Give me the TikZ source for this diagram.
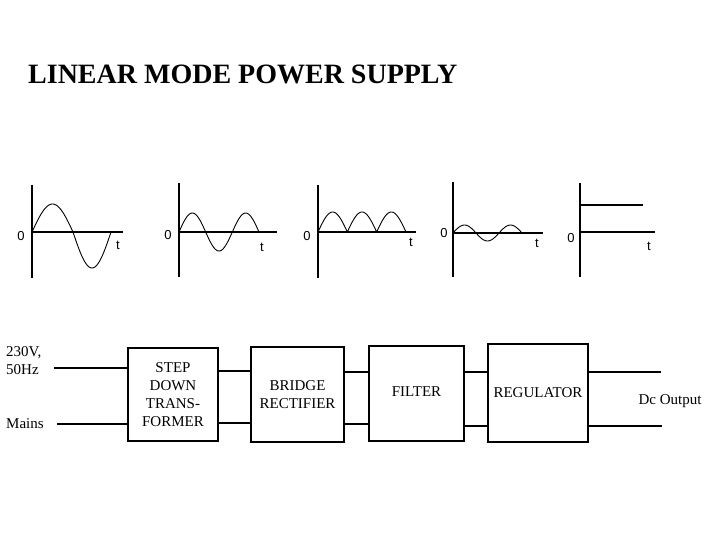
\documentclass[tikz,border=0pt]{standalone}
\usepackage{fontspec}
\setmainfont{Liberation Serif}
\newfontfamily\axfont{Liberation Sans}
\begin{document}
\begin{tikzpicture}[x=1pt,y=-1pt,
  ln/.style={line width=1.1pt},
  wave/.style={line width=0.9pt},
  blockbox/.style={draw,line width=1.1pt,inner sep=0pt,align=center,
    font=\fontsize{15}{18}\selectfont},
  axlab/.style={font=\axfont\fontsize{13}{13}\selectfont,inner sep=0pt},
  txt/.style={font=\fontsize{15}{18}\selectfont,inner sep=0pt}]
\useasboundingbox[fill=white] (0,0) rectangle (720,540);

% title
\node[anchor=base west,inner sep=0pt,font=\bfseries\fontsize{28}{29}\selectfont] (title) at (28,84) {LINEAR MODE POWER SUPPLY};

% ---------- graphs ----------
% graph 1
\coordinate (g1o) at (32,232);
\draw[ln] (32,185) -- (32,278);
\draw[ln] (g1o) -- (123,232);
\draw[wave] plot[domain=0:180,samples=37] ({32+\x/180*41},{232-28*sin(\x)});
\draw[wave] plot[domain=0:180,samples=37] ({73+\x/180*38},{232+36*sin(\x)});
\node[axlab] (g1z) at (21,236) {0};
\node[axlab] (g1t) at (118,245) {t};

% graph 2
\draw[ln] (179,183) -- (179,277);
\draw[ln] (179,232) -- (277,232);
\draw[wave] plot[domain=0:540,samples=73] ({179+\x/540*80},{232-19*sin(\x)});
\node[axlab] (g2z) at (168,235) {0};
\node[axlab] (g2t) at (262,247) {t};

% graph 3
\draw[ln] (318,185) -- (318,278);
\draw[ln] (318,232) -- (416,232);
\draw[wave] plot[domain=0:540,samples=109] ({318+\x/540*88},{232-20*abs(sin(\x))});
\node[axlab] (g3z) at (307,236) {0};
\node[axlab] (g3t) at (411,242) {t};

% graph 4
\draw[ln] (453,182) -- (453,277);
\draw[ln] (453,233) -- (543,233);
\draw[wave] plot[domain=0:540,samples=55] ({453+\x/540*69},{233-8*sin(\x)});
\node[axlab] (g4z) at (444,233) {0};
\node[axlab] (g4t) at (537,243) {t};

% graph 5
\draw[ln] (580,183) -- (580,277);
\draw[ln] (580,232) -- (655,232);
\draw[ln] (580,205) -- (643,205);
\node[axlab] (g5z) at (571,238) {0};
\node[axlab] (g5t) at (649,246) {t};

% ---------- blocks ----------
\node[blockbox,minimum width=90pt,minimum height=93pt] (step) at (173,394.5)
  {STEP\\DOWN\\TRANS-\\FORMER};
\node[blockbox,minimum width=93pt,minimum height=95pt] (bridge) at (297.5,394.5)
  {BRIDGE\\RECTIFIER};
\node[blockbox,minimum width=95pt,minimum height=95pt] (filter) at (416.5,393.5)
  {\raisebox{4pt}{FILTER}};
\node[blockbox,minimum width=100pt,minimum height=98pt] (reg) at (538,393)
  {REGULATOR};

% input / output labels
\node[txt,anchor=west,align=left] (volt) at (6,361) {230V,\\50Hz};
\node[txt,anchor=west] (mains) at (6,424) {Mains};
\node[txt] (dcout) at (670,401) {Dc Output};

% connection levels
\coordinate (inT) at (54,368);
\coordinate (inB) at (57,424);
\coordinate (yA) at (0,371);
\coordinate (yB) at (0,423);
\coordinate (yC) at (0,372);
\coordinate (yD) at (0,424);
\coordinate (yE) at (0,426);
\coordinate (outT) at (661,372);
\coordinate (outB) at (662,426);

\draw[ln] (inT) -- (inT -| step.west);
\draw[ln] (inB) -- (inB -| step.west);
\draw[ln] (yA -| step.east) -- (yA -| bridge.west);
\draw[ln] (yB -| step.east) -- (yB -| bridge.west);
\draw[ln] (yC -| bridge.east) -- (yC -| filter.west);
\draw[ln] (yD -| bridge.east) -- (yD -| filter.west);
\draw[ln] (yC -| filter.east) -- (yC -| reg.west);
\draw[ln] (yE -| filter.east) -- (yE -| reg.west);
\draw[ln] (outT -| reg.east) -- (outT);
\draw[ln] (outB -| reg.east) -- (outB);
\end{tikzpicture}
\end{document}
